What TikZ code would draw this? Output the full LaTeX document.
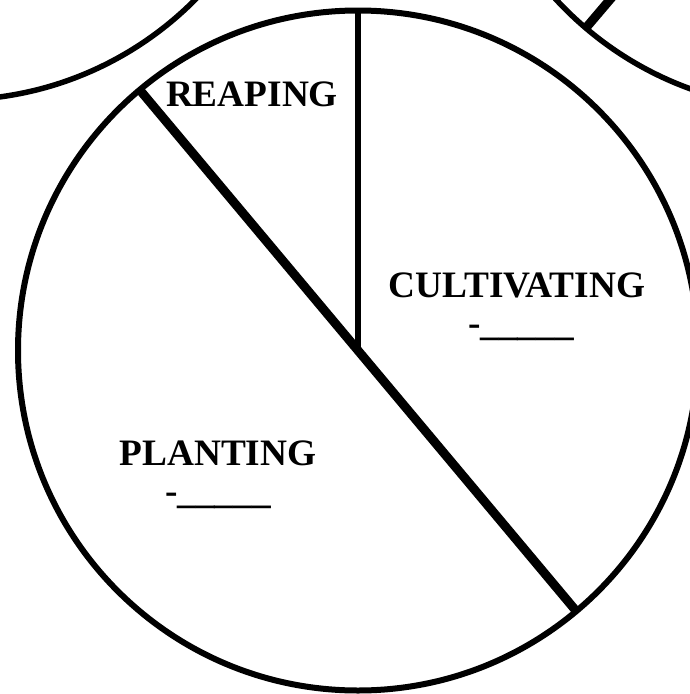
\documentclass[tikz,border=0pt]{standalone}
\usepackage{fontspec}
\setmainfont{Liberation Serif}
\begin{document}
\begin{tikzpicture}[x=1pt,y=-1pt,line join=round,
  rim/.style={line width=6pt},
  thin rim/.style={line width=5.5pt},
  divider/.style={line width=9pt},
  radial/.style={line width=6pt},
  lab/.style={font=\fontsize{37.3}{40}\selectfont\bfseries,anchor=base,inner sep=0pt}]
\useasboundingbox (0,0) rectangle (690,694);
\clip (0,0) rectangle (690,694);
% neighbouring circles
\coordinate (L) at (-46,-240);
\coordinate (R) at (806,-231);
\draw[thin rim] (L) circle[radius=340];
\draw[thin rim] (R) circle[radius=340];
\coordinate (rd) at (585,29);
\draw[divider] (rd) -- (R);
% main circle
\coordinate (C) at (358,350.5);
\coordinate (top) at (358,10.5);
\coordinate (d1) at (139,89);
\coordinate (d2) at (577,612);
\draw[rim] (C) circle[radius=340];
\draw[radial] (top) -- (C);
\draw[divider] (d1) -- (d2);
% labels
\node[lab] (reap) at (252,106) {REAPING};
\node[lab] (cult) at (517,297) {CULTIVATING};
\node[lab] (cultb) at (521,335) {-\_\_\_\_\_};
\node[lab] (plant) at (218,465) {PLANTING};
\node[lab] (plantb) at (218,503) {-\_\_\_\_\_};
\end{tikzpicture}
\end{document}
